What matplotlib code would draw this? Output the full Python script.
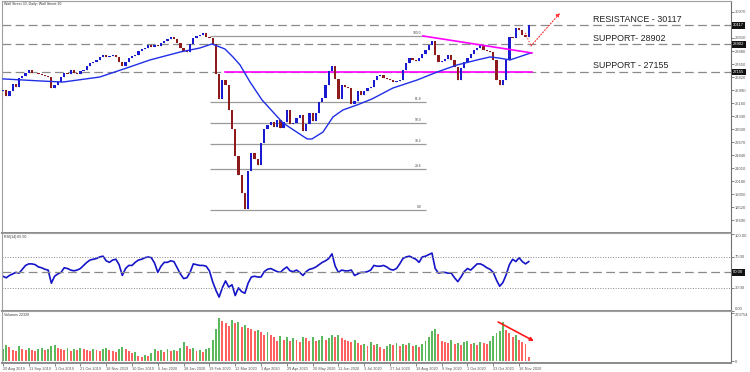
import numpy as np
import matplotlib
matplotlib.use("Agg")
import matplotlib.pyplot as plt
from matplotlib import transforms

plt.rcParams["font.family"] = ["Liberation Sans", "DejaVu Sans"]

# one bar = 2 trading days, 20 Aug 2019 .. 24 Nov 2020
close = [26000, 25600, 25950, 26350, 26200, 26750, 26900, 27100, 27250, 27100,
         27050, 27000, 26950, 26900, 26850, 26100, 26300, 26500, 26850, 27050,
         27000, 27250, 27100, 27000, 27200, 27300, 27500, 27700, 27800, 27900,
         28100, 28200, 28100, 28150, 28200, 28100, 27800, 27550, 27750, 28050,
         28150, 28250, 28450, 28600, 28700, 28850, 28750, 28850, 28800, 29000,
         29100, 29250, 29400, 29250, 29000, 28700, 28500, 28400, 28900, 29300,
         29450, 29500, 29600, 29400, 29300, 28900, 27000, 25400, 26600, 26300,
         24700, 23500, 21800, 20600, 19400, 18400, 20800, 22000, 21600, 21200,
         22600, 23500, 23750, 23950, 23630, 24100, 23600, 23950, 24700, 23800,
         23900, 24200, 24400, 23350, 23800, 24500, 24000, 24500, 25200, 25500,
         26300, 27200, 27550, 26700, 25400, 26300, 26200, 26100, 25100, 25300,
         25950, 25700, 25900, 26100, 26200, 26650, 26900, 26950, 26750, 26700,
         26600, 26500, 26550, 26650, 27250, 27700, 28050, 27900, 27850, 28050,
         28300, 28550, 28850, 29150, 28200, 27800, 27850, 27950, 28200, 27900,
         27450, 26650, 27400, 27750, 28050, 28300, 28550, 28700, 28850, 28550,
         28450, 28400, 27900, 26650, 26300, 26600, 27900, 29400, 29300, 29950,
         29800, 29500, 29350, 30120]
first_open = 25950

rsi = [45, 43, 46, 48, 50, 49, 54, 59, 61, 61,
       60, 57, 56, 54, 53, 36, 45, 48, 50, 56,
       55, 53, 52, 53, 55, 59, 63, 66, 67, 68,
       70, 71, 65, 63, 66, 67, 60, 46, 55, 59,
       59, 63, 66, 67, 69, 70, 69, 62, 50, 58,
       63, 63, 65, 64, 56, 48, 42, 43, 50, 61,
       60, 59, 59, 58, 52, 38, 27, 18, 30, 39,
       31, 34, 20, 30, 25, 23, 36, 44, 45, 44,
       44, 51, 54, 55, 53, 51, 50, 54, 57, 52,
       51, 53, 50, 46, 51, 54, 55, 57, 60, 63,
       65, 68, 74, 58, 50, 53, 52, 52, 53, 46,
       48, 50, 50, 51, 53, 59, 58, 58, 59, 57,
       54, 53, 55, 61, 68, 70, 71, 69, 67, 63,
       70, 71, 73, 75, 55, 49, 50, 50, 49, 49,
       43, 38, 44, 51, 55, 53, 57, 61, 61, 59,
       56, 54, 50, 40, 32, 37, 47, 60, 67, 64,
       69, 64, 61, 64]

volume_k = [55, 75, 65, 50, 45, 70, 55, 50, 60, 50, 45, 55, 60, 50, 55, 70,
            75, 60, 55, 50, 60, 45, 55, 50, 60, 55, 50, 45, 55, 50, 45, 55,
            60, 50, 45, 40, 55, 65, 55, 45, 35, 40, 25, 20, 30, 25, 35, 55,
            45, 50, 40, 55, 45, 50, 45, 60, 90, 70, 55, 60, 45, 50, 40, 55,
            60, 100, 150, 200, 185, 175, 165, 190, 175, 180, 160, 170, 155, 150, 140, 145,
            135, 120, 135, 120, 110, 95, 115, 100, 110, 95, 105, 100, 90, 110, 105, 95,
            110, 95, 100, 115, 100, 105, 120, 110, 120, 105, 100, 95, 90, 100, 85, 75,
            80, 70, 90, 75, 80, 65, 55, 70, 80, 75, 85, 70, 80, 75, 85, 70,
            75, 65, 80, 95, 110, 140, 150, 125, 95, 90, 85, 100, 80, 85, 75, 90,
            95, 80, 85, 75, 90, 85, 80, 95, 115, 130, 140, 180, 145, 130, 110, 120,
            100, 90, 80, 20]

# moving average (bar index, value)
ma_idx = [0, 11.5, 18.6, 30, 38.4, 45.6, 55, 61, 64.8, 68.8, 71.3, 73.5, 76.6,
          80.3, 86.8, 94.3, 95.8, 99.2, 102.3, 105.4, 109.8, 114.4, 120.9, 128.4,
          134.6, 140.8, 147, 151, 153.5, 157.2, 163.7]
ma_val = [26700, 26570, 26500, 26820, 27400, 27910, 28420, 28670, 28930, 28610,
          28100, 27590, 26500, 25360, 23890, 22870, 22870, 23310, 24270, 24720,
          25040, 25420, 26120, 26630, 27140, 27590, 27910, 28100, 28040, 27910, 28360]

date_labels = ["20 Aug 2019", "11 Sep 2019", "1 Oct 2019", "21 Oct 2019", "18 Nov 2019",
               "10 Dec 2019", "6 Jan 2020", "28 Jan 2020", "19 Feb 2020", "12 Mar 2020",
               "3 Apr 2020", "29 Apr 2020", "20 May 2020", "11 Jun 2020", "3 Jul 2020",
               "27 Jul 2020", "18 Aug 2020", "9 Sep 2020", "1 Oct 2020", "23 Oct 2020",
               "16 Nov 2020"]

levels = [30117, 28902, 27155]
level_names = ["RESISTANCE - 30117", "SUPPORT- 28902", "SUPPORT - 27155"]
level_text_y = [30460, 29250, 27530]
price_ticks = [17690, 18520, 19350, 20180, 21010, 21840, 22670, 23500, 24330,
               25160, 25990, 26820, 27650, 28480, 29310, 30970]

fib_ratios = [0.0, 23.6, 38.2, 50.0, 61.8, 100.0]
fib_low, fib_high = 18338, 29440
fib_start, fib_end = 64.2, 131.2

trend_x, trend_y = [130.2, 164.0], [29440, 28355]
flat_x, flat_y = [68.8, 164.0], [27160, 27160]
proj_x, proj_y = [161.9, 163.7, 172.7], [29630, 28800, 30907]
vol_arrow_x, vol_arrow_y = [153.5, 164.6], [182, 93]

W, H = 750, 372


def box(x0, y0, x1, y1):
    return [x0 / W, 1 - y1 / H, (x1 - x0) / W, (y1 - y0) / H]


fig = plt.figure(figsize=(7.5, 3.72), dpi=100)
ax = fig.add_axes(box(2, 1, 731, 233))
ax_rsi = fig.add_axes(box(2, 233, 731, 311), sharex=ax)
ax_vol = fig.add_axes(box(2, 311, 731, 363), sharex=ax)

x = np.arange(len(close))
c = np.array(close, dtype=float)
o = np.r_[first_open, c[:-1]]
up = c >= o

# candles
ax.vlines(x, np.minimum(o, c), np.maximum(o, c), color="#b0b0b0", lw=0.5, zorder=2)
ax.bar(x, np.maximum(np.abs(c - o), 30), bottom=np.minimum(o, c), width=0.7,
       color=np.where(up, "#1a1ad0", "#8e1b1b"), linewidth=0, zorder=3)
ax.plot(ma_idx, ma_val, color="#1f2ee6", lw=1.0, zorder=4)

for lv in levels:
    ax.axhline(lv, color="#8a8a8a", lw=0.9, ls=(0, (7, 3.5)), zorder=1)

for r in fib_ratios:
    p = fib_low + (fib_high - fib_low) * r / 100
    ax.hlines(p, fib_start, fib_end, color="#9a9a9a", lw=0.9, zorder=1)
    ax.text(fib_end - 1.5, p + 60, f"{r:.1f}", fontsize=2.4, ha="right",
            va="bottom", color="#444")

ax.plot(trend_x, trend_y, color="#ff00ff", lw=1.2, zorder=5)
ax.plot(flat_x, flat_y, color="#ff00ff", lw=1.2, zorder=2)
ax.plot(proj_x[:2], proj_y[:2], color="#ff3030", lw=0.8, ls=":", zorder=5)
ax.annotate("", xy=(proj_x[2], proj_y[2]), xytext=(proj_x[1], proj_y[1]),
            arrowprops=dict(arrowstyle="-|>", color="#ff3030", lw=0.8, ls=":",
                            mutation_scale=5, shrinkA=0, shrinkB=0), zorder=5)

for name, ty in zip(level_names, level_text_y):
    ax.text(183, ty, name, fontsize=6.4, va="center", ha="left", color="#222")

ax.set_xlim(-0.3, 225.7)
ax.set_ylim(16870, 31670)
ax.yaxis.tick_right()
ax.set_yticks(price_ticks)
ax.set_yticklabels([str(t) for t in price_ticks])
ax.tick_params(axis="y", labelsize=3, length=2, width=0.5, pad=1, colors="#555")
ax.tick_params(axis="x", bottom=False, labelbottom=False)

trans = transforms.blended_transform_factory(ax.transAxes, ax.transData)
for lv in levels:
    ax.text(1.003, lv, str(lv), transform=trans, fontsize=3, color="white",
            va="center", ha="left", clip_on=False,
            bbox=dict(boxstyle="square,pad=0.3", fc="#111", ec="none"))

# RSI
ax_rsi.plot(x, rsi, color="#1414c8", lw=1.2)
ax_rsi.axhline(70, color="#888", lw=0.7, ls=":")
ax_rsi.axhline(30, color="#888", lw=0.7, ls=":")
ax_rsi.axhline(50, color="#8a8a8a", lw=0.9, ls=(0, (7, 3.5)))
ax_rsi.set_ylim(0, 101)
ax_rsi.yaxis.tick_right()
ax_rsi.set_yticks([0, 30, 70, 100])
ax_rsi.set_yticklabels(["0.00", "30.00", "70.00", "100.00"])
ax_rsi.tick_params(axis="y", labelsize=3, length=2, width=0.5, pad=1, colors="#555")
ax_rsi.tick_params(axis="x", bottom=False, labelbottom=False)
rl = ax_rsi.get_yticklabels()
rl[0].set_va("bottom")
rl[-1].set_va("top")
trans_r = transforms.blended_transform_factory(ax_rsi.transAxes, ax_rsi.transData)
ax_rsi.text(1.003, 50, "50.00", transform=trans_r, fontsize=3, color="white",
            va="center", ha="left", clip_on=False,
            bbox=dict(boxstyle="square,pad=0.3", fc="#111", ec="none"))

# Volumes: green when higher than previous bar, red otherwise
v = np.array(volume_k, dtype=float)
rising = np.r_[True, v[1:] > v[:-1]]
ax_vol.bar(x, v, width=0.6, color=np.where(rising, "#5cb85c", "#ff6060"), linewidth=0)
ax_vol.annotate("", xy=(vol_arrow_x[1], vol_arrow_y[1]),
                xytext=(vol_arrow_x[0], vol_arrow_y[0]),
                arrowprops=dict(arrowstyle="-|>", color="#ff1a1a", lw=1.2,
                                mutation_scale=5, shrinkA=0, shrinkB=0))
ax_vol.set_ylim(-9.3, 233)
ax_vol.yaxis.tick_right()
ax_vol.set_yticks([0, 223.754])
ax_vol.set_yticklabels(["0", "223754"])
ax_vol.tick_params(axis="y", labelsize=3, length=2, width=0.5, pad=1, colors="#555")
ax_vol.get_yticklabels()[-1].set_va("top")
ax_vol.set_xticks(np.arange(0, len(close), 8))
ax_vol.set_xticklabels(date_labels, ha="left")
ax_vol.tick_params(axis="x", labelsize=2.8, length=2, width=0.5, pad=1, colors="#555")

for a in (ax, ax_rsi, ax_vol):
    for s in a.spines.values():
        s.set_color("#a0a0a0")
        s.set_linewidth(0.8)
    a.spines["right"].set_color("#707070")
    a.spines["bottom"].set_linewidth(1.4)
    a.spines["bottom"].set_color("#8a8a8a")

fig.text(4 / W, 1 - 4 / H, "Wall Street 30, Daily: Wall Street 30", fontsize=2.6,
         va="center", color="#333")
fig.text(4 / W, 1 - 237 / H, "RSI(14) 65.50", fontsize=2.6, va="center", color="#333")
fig.text(4 / W, 1 - 315 / H, "Volumes 22329", fontsize=2.6, va="center", color="#333")

fig.savefig("out.png", dpi=100)
